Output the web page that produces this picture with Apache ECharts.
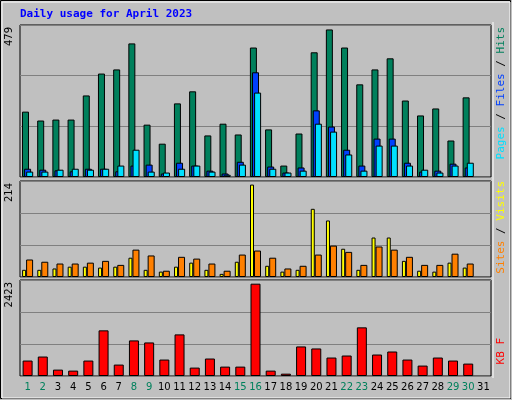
<!DOCTYPE html>
<html><head><meta charset="utf-8">
<script src="https://cdn.jsdelivr.net/npm/echarts@6/dist/echarts.min.js"></script>
<style>html,body{margin:0;padding:0;background:#c0c0c0}#c{width:512px;height:400px}</style>
</head><body><div id="c"></div>
<script>
var days = [];
for (var d = 1; d <= 31; d++) days.push(String(d));
var weekend = ['1','2','8','9','15','16','22','23','29','30'];
// top panel
var hits  = [206,178,181,181,257,326,339,421,165,105,232,270,131,168,134,408,150,36,137,393,465,408,292,339,374,241,194,216,115,251,null];
var files = [26,23,21,18,26,26,18,36,39,11,45,36,20,11,48,330,33,14,30,210,159,86,36,121,121,45,17,20,42,30,null];
var pages = [17,17,23,26,23,26,36,86,17,14,26,36,17,7,39,266,26,14,20,168,143,71,20,99,99,36,23,14,36,45,null];
// middle panel
var visits = [16,16,19,23,23,21,23,43,16,12,23,32,16,7,34,206,25,12,16,152,126,63,16,88,88,36,14,12,32,21,null];
var sites  = [39,34,30,30,32,36,27,61,48,14,45,41,30,14,50,59,43,19,25,50,70,56,27,68,61,45,27,27,52,30,null];
// bottom panel
var kbytes = [390,491,161,136,390,1152,288,898,847,415,1050,212,441,237,237,2330,136,59,746,695,466,517,1228,542,618,415,263,466,390,313,null];
var maxHits = 479, maxSites = 214, maxKB = 2423;

var chart = echarts.init(document.getElementById('c'));
var grids = [
  {left: 20, right: 21, top: 25, height: 152},
  {left: 20, right: 21, top: 181, height: 96},
  {left: 20, right: 21, top: 280, height: 96}
];
grids.forEach(function (g) { g.show = true; g.borderColor = '#000'; g.borderWidth = 1; g.backgroundColor = '#c0c0c0'; });

function xAx(i, showLabel) {
  return {type: 'category', gridIndex: i, data: days, axisTick: {show: false},
    axisLine: {show: false},
    axisLabel: showLabel ? {show: true, interval: 0, margin: 6, fontFamily: 'DejaVu Sans', fontSize: 10,
      formatter: function (v) { return weekend.indexOf(v) >= 0 ? '{w|' + v + '}' : '{n|' + v + '}'; },
      rich: {w: {color: '#00805c', fontSize: 10}, n: {color: '#000', fontSize: 10}}} : {show: false}};
}
function yAx(i, max) {
  return {type: 'value', gridIndex: i, min: 0, max: max, interval: max / 3,
    axisLabel: {show: false}, axisLine: {show: false}, axisTick: {show: false},
    splitLine: {lineStyle: {color: '#808080', width: 1}}};
}
function bar(name, data, color, xi, width, gap) {
  return {name: name, type: 'bar', xAxisIndex: xi, yAxisIndex: xi, data: data, barWidth: width,
    barGap: gap, animation: false, silent: true,
    itemStyle: {color: color, borderColor: '#000', borderWidth: 1}};
}
function vtext(x, y, rich, txt) {
  return {type: 'text', x: x, y: y, rotation: Math.PI / 2,
    style: {text: txt, rich: rich, fontFamily: 'DejaVu Sans Mono', fontSize: 11, align: 'right', verticalAlign: 'middle'}};
}
function vlabel(x, y, txt, color) {
  return {type: 'text', x: x, y: y, rotation: Math.PI / 2,
    style: {text: txt, fill: color, fontFamily: 'DejaVu Sans', fontSize: 10, align: 'right', verticalAlign: 'middle'}};
}

chart.setOption({
  backgroundColor: '#c0c0c0',
  grid: grids,
  xAxis: [xAx(0, false), xAx(1, false), xAx(2, true)],
  yAxis: [yAx(0, maxHits), yAx(1, maxSites), yAx(2, maxKB)],
  series: [
    bar('Hits', hits, '#00805c', 0, 7, '-70%'),
    bar('Files', files, '#0040ff', 0, 7, '-70%'),
    bar('Pages', pages, '#00e0ff', 0, 7, '-70%'),
    bar('Visits', visits, '#ffff00', 1, 4, '0%'),
    bar('Sites', sites, '#ff8000', 1, 7, '0%'),
    bar('KBytes', kbytes, '#ff0000', 2, 10, '0%')
  ],
  graphic: [
    {type: 'rect', shape: {x: 0.5, y: 0.5, width: 510, height: 398}, style: {fill: 'none', stroke: '#000', lineWidth: 1}},
    {type: 'rect', shape: {x: 2, y: 2, width: 508, height: 396}, style: {fill: 'none', stroke: '#ffffff', lineWidth: 1}},
    {type: 'line', shape: {x1: 493, y1: 22, x2: 493, y2: 378}, style: {stroke: '#ffffff', lineWidth: 1}},
    {type: 'text', x: 20, y: 9, style: {text: 'Daily usage for April 2023', fill: '#0000ff',
      fontFamily: 'DejaVu Sans Mono', fontWeight: 'bold', fontSize: 11}},
    vlabel(9, 27, '479', '#000'),
    vlabel(9, 183, '214', '#000'),
    vlabel(9, 282, '2423', '#000'),
    vtext(501, 27, {p: {fill: '#00e0ff'}, s: {fill: '#000'}, f: {fill: '#0040ff'}, h: {fill: '#00805c'}},
      '{p|Pages}{s| / }{f|Files}{s| / }{h|Hits}'),
    vtext(501, 181, {a: {fill: '#ff8000'}, s: {fill: '#000'}, b: {fill: '#ffff00'}},
      '{a|Sites}{s| / }{b|Visits}'),
    vtext(501, 338, {a: {fill: '#ff0000'}}, '{a|KB F}')
  ]
});
</script></body></html>
